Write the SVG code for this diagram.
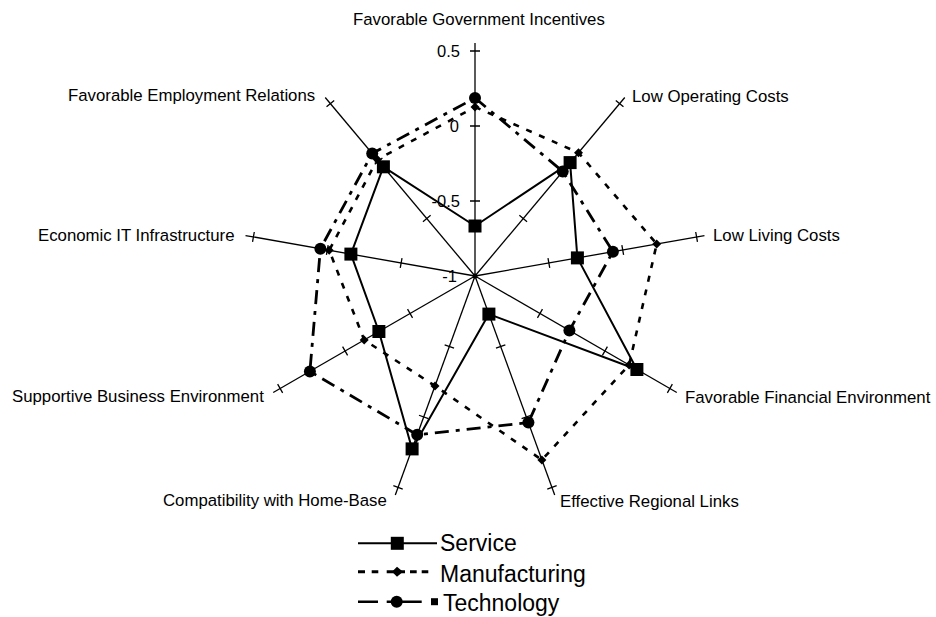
<svg xmlns="http://www.w3.org/2000/svg" xmlns:xlink="http://www.w3.org/1999/xlink" width="936" height="617" viewBox="0 0 936 617">
<style>
.lbl{font-family:"Liberation Sans",Arial,sans-serif;font-size:16.8px;fill:#000}
.num{font-family:"Liberation Sans",Arial,sans-serif;font-size:16.5px;fill:#000;text-anchor:end}
.leg{font-family:"Liberation Sans",Arial,sans-serif;font-size:23px;fill:#000}
.ax{stroke:#000;stroke-width:1.3;fill:none}
.svc{stroke:#000;stroke-width:2;fill:none;stroke-linejoin:round}
.mfg{stroke:#000;stroke-width:2.6;fill:none;stroke-dasharray:6 8}
.tec{stroke:#000;stroke-width:2.8;fill:none;stroke-dasharray:14 7 4 7}
</style>
<defs>
<g id="axis">
<line class="ax" x1="475" y1="276" x2="708" y2="276"/>
<path class="ax" d="M550,271v10M625,271v10M700,271v10"/>
</g>
<rect id="sq" x="-6.5" y="-6.5" width="13" height="13" fill="#000"/>
<circle id="ci" r="6" fill="#000"/>
<path id="di" d="M0,-4.5L4.5,0L0,4.5L-4.5,0Z" fill="#000"/>
</defs>
<rect width="936" height="617" fill="#fff"/>
<g id="axes">
<use xlink:href="#axis" transform="rotate(-90 475 276)" style="stroke-width:1.8"/>
<use xlink:href="#axis" transform="rotate(-50 475 276)"/>
<use xlink:href="#axis" transform="rotate(-10 475 276)"/>
<use xlink:href="#axis" transform="rotate(30 475 276)"/>
<use xlink:href="#axis" transform="rotate(70 475 276)"/>
<use xlink:href="#axis" transform="rotate(110 475 276)"/>
<use xlink:href="#axis" transform="rotate(150 475 276)"/>
<use xlink:href="#axis" transform="rotate(190 475 276)"/>
<use xlink:href="#axis" transform="rotate(230 475 276)"/>
<circle cx="475" cy="276" r="2.5" fill="#000"/>
</g>
<g id="scale">
<text class="num" x="460" y="57">0.5</text>
<text class="num" x="459" y="132">0</text>
<text class="num" x="460" y="207">-0.5</text>
<text class="num" x="457" y="282">-1</text>
</g>
<g id="labels">
<text class="lbl" id="lbl-gov" x="353" y="25">Favorable Government Incentives</text>
<text class="lbl" id="lbl-emp" x="68" y="101">Favorable Employment Relations</text>
<text class="lbl" id="lbl-lowop" x="632" y="102">Low Operating Costs</text>
<text class="lbl" id="lbl-econ" x="38" y="241">Economic IT Infrastructure</text>
<text class="lbl" id="lbl-lowliv" x="713" y="241">Low Living Costs</text>
<text class="lbl" id="lbl-supp" x="12" y="402">Supportive Business Environment</text>
<text class="lbl" id="lbl-fin" x="685" y="403">Favorable Financial Environment</text>
<text class="lbl" id="lbl-comp" x="163" y="506">Compatibility with Home-Base</text>
<text class="lbl" id="lbl-reg" x="560" y="507">Effective Regional Links</text>
</g>
<g id="series">
<polygon id="manufacturing" class="mfg" points="475,107 578.5,152.7 656.7,244 629.1,365 541.9,459.9 435,385.9 364.2,340 329.2,250.3 377.3,159.6"/>
<polygon id="technology" class="tec" points="475,98 562.7,171.4 612.9,251.7 569.4,330.5 528.4,422.6 417.2,434.8 309.9,371.4 320.4,248.7 372.2,153.4"/>
<polygon id="service" class="svc" points="475,226 570.1,162.6 577.4,257.9 636.9,369.5 488.9,314.1 412.1,448.9 378.9,331.5 350.9,254.1 383.4,166.8"/>
</g>
<g id="markers">
<use xlink:href="#di" x="475" y="107"/>
<use xlink:href="#di" x="578.5" y="152.7"/>
<use xlink:href="#di" x="656.7" y="244"/>
<use xlink:href="#di" x="629.1" y="365"/>
<use xlink:href="#di" x="541.9" y="459.9"/>
<use xlink:href="#di" x="435" y="385.9"/>
<use xlink:href="#di" x="364.2" y="340"/>
<use xlink:href="#di" x="329.2" y="250.3"/>
<use xlink:href="#di" x="377.3" y="159.6"/>
<use xlink:href="#ci" x="475" y="98"/>
<use xlink:href="#ci" x="562.7" y="171.4"/>
<use xlink:href="#ci" x="612.9" y="251.7"/>
<use xlink:href="#ci" x="569.4" y="330.5"/>
<use xlink:href="#ci" x="528.4" y="422.6"/>
<use xlink:href="#ci" x="417.2" y="434.8"/>
<use xlink:href="#ci" x="309.9" y="371.4"/>
<use xlink:href="#ci" x="320.4" y="248.7"/>
<use xlink:href="#ci" x="372.2" y="153.4"/>
<use xlink:href="#sq" x="475" y="226"/>
<use xlink:href="#sq" x="570.1" y="162.6"/>
<use xlink:href="#sq" x="577.4" y="257.9"/>
<use xlink:href="#sq" x="636.9" y="369.5"/>
<use xlink:href="#sq" x="488.9" y="314.1"/>
<use xlink:href="#sq" x="412.1" y="448.9"/>
<use xlink:href="#sq" x="378.9" y="331.5"/>
<use xlink:href="#sq" x="350.9" y="254.1"/>
<use xlink:href="#sq" x="383.4" y="166.8"/>
</g>
<g id="legend">
<line x1="358" y1="543.3" x2="437" y2="543.3" stroke="#000" stroke-width="2"/>
<use xlink:href="#sq" x="397.3" y="543.3"/>
<text class="leg" x="440" y="551">Service</text>
<path d="M358,571.7h7M371.7,571.7h6.6M386.7,571.7h18.3M410,571.7h6.7M421.7,571.7h6.6" stroke="#000" stroke-width="3" fill="none"/>
<path d="M397,566.7L403,571.7L397,576.7L392,571.7Z" fill="#000"/>
<text class="leg" x="440" y="582">Manufacturing</text>
<path d="M358,601.7h20M386.7,601.7h35" stroke="#000" stroke-width="2.5" fill="none"/>
<circle cx="396.7" cy="601.7" r="6" fill="#000"/>
<rect x="431" y="598.2" width="7" height="7" fill="#000"/>
<text class="leg" x="443" y="611">Technology</text>
</g>
</svg>
